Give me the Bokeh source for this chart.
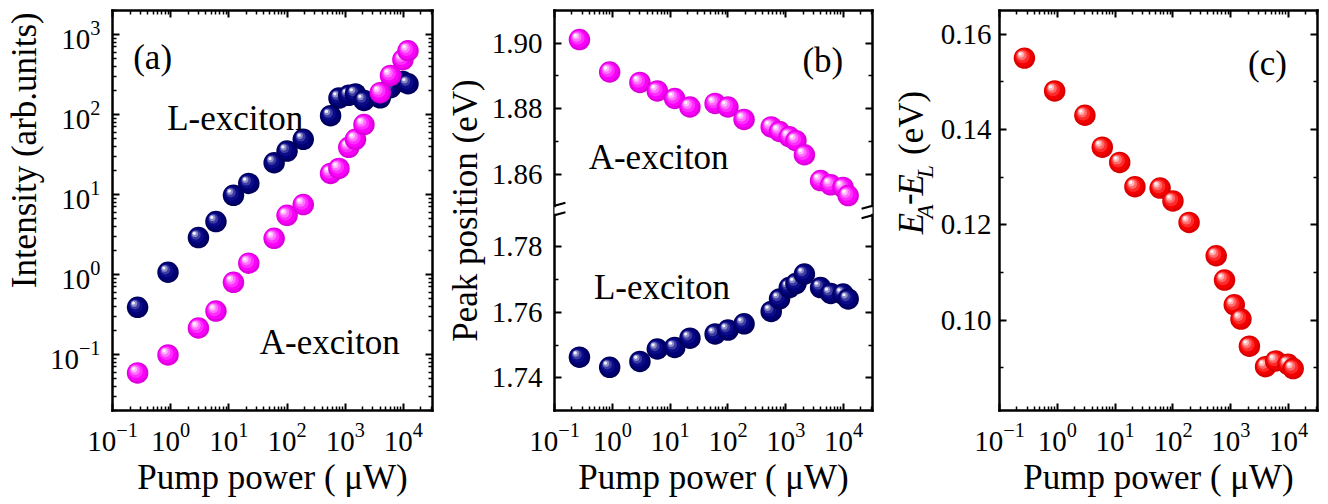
import math
from bokeh.plotting import figure
from bokeh.layouts import row
from bokeh.core.properties import value
from bokeh.models import (LogAxis, LinearAxis, FixedTicker, Label, ColumnDataSource,
                          Range1d, BoxAnnotation, Arrow, PrintfTickFormatter,
                          CustomJSTickFormatter, LogTickFormatter)
from bokeh.embed import file_html
from bokeh.resources import INLINE

# ---------------- data ----------------
power = [0.27, 0.9, 3, 6, 12, 22, 60, 100, 190, 560, 780, 1150, 1500, 2100, 4000, 6000, 9800, 12000]
intensity_L = [0.39, 1.07, 2.9, 4.6, 9.8, 13.8, 25, 35, 49, 97, 161, 174, 181, 150, 162, 217, 259, 243]
intensity_A = [0.059, 0.099, 0.215, 0.35, 0.80, 1.39, 2.84, 5.5, 7.5, 18.4, 21.2, 39, 49, 75, 188, 309, 485, 628]
peak_A = [1.9011, 1.8912, 1.8880, 1.8854, 1.8831, 1.8805, 1.8816, 1.8805, 1.8767, 1.8744,
          1.8730, 1.8714, 1.8702, 1.8659, 1.8580, 1.8567, 1.8559, 1.8534]
peak_L = [1.7463, 1.7432, 1.7450, 1.7488, 1.7493, 1.7521, 1.7534, 1.7546, 1.7565, 1.7603,
          1.7641, 1.7676, 1.7688, 1.7717, 1.7676, 1.7658, 1.7656, 1.7641]
delta_AL = [0.1550, 0.1481, 0.1430, 0.1363, 0.1331, 0.1280, 0.1277, 0.1250, 0.1205, 0.1135,
            0.1084, 0.1032, 0.1002, 0.0945, 0.0902, 0.0914, 0.0907, 0.0898]

x_major = [0.1, 1, 10, 100, 1000, 10000]
ya_major = [0.1, 1, 10, 100, 1000]
yb_major = [1.74, 1.76, 1.78, 1.86, 1.88, 1.90]
yb_minor = [1.75, 1.77, 1.87, 1.89]
yc_major = [0.10, 0.12, 0.14, 0.16]
yc_minor = [0.09, 0.11, 0.13, 0.15]

# ---------------- style ----------------
FONT = "Liberation Serif"
TICK_FS = "29px"
LAB_FS = "35px"
X_RANGE = (0.1, 10 ** 4.5)
YA_RANGE = (0.02, 2000)
YC_RANGE = (0.081, 0.165)
FRAME_H = 400
H = 504

# broken axis of panel (b): lower part 1.73-1.79, upper part 1.85-1.91
LOW_TOP = 1.79
GAP = 0.0023
SHIFT = 1.85 - LOW_TOP - GAP
YB_RANGE = (1.73, 1.91 - SHIFT)


def tb(v):
    return v - SHIFT if v > 1.82 else v


def log_minor(lo_exp, hi_exp):
    return [k * 10.0 ** e for e in range(lo_exp, hi_exp + 1) for k in range(2, 10)]


NAVY = ["#00005c", "#000078", "#0c0c88", "#3c3ca2", "#8c8cc8", "#f2f2ff"]
MAGENTA = ["#dd00dd", "#fa00fa", "#ff30ff", "#ff70ff", "#ffb8ff", "#fff4ff"]
RED = ["#d80000", "#f50000", "#ff2a2a", "#ff6a6a", "#ffb4b4", "#fff2f2"]


def style_axis(ax, show_labels=True):
    ax.axis_line_width = 2.5
    ax.axis_line_color = "black"
    ax.axis_line_cap = "square"
    ax.major_tick_in = 7
    ax.major_tick_out = 0
    ax.major_tick_line_width = 2
    ax.minor_tick_in = 4
    ax.minor_tick_out = 0
    ax.minor_tick_line_width = 1.5
    ax.major_label_text_font = FONT
    ax.major_label_text_font_size = TICK_FS
    ax.major_label_text_color = "black"
    ax.axis_label_text_font = FONT
    ax.axis_label_text_font_size = LAB_FS
    ax.axis_label_text_font_style = "normal"
    ax.axis_label_text_color = "black"
    if not show_labels:
        ax.formatter = CustomJSTickFormatter(code="return ''")
        ax.major_label_text_color = None
        ax.major_label_standoff = 0
        ax.axis_label = None


def make_fig(width, left, right, y_type, y_range):
    p = figure(width=width, height=H, x_axis_type="log", y_axis_type=y_type,
               x_range=Range1d(*X_RANGE), y_range=Range1d(*y_range),
               output_backend="svg", toolbar_location=None,
               min_border_left=left, min_border_right=right,
               min_border_top=10, min_border_bottom=94)
    p.outline_line_color = None
    p.grid.visible = False
    p.background_fill_color = "white"
    p.border_fill_color = "white"
    return p


def make_strip(width):
    s = figure(width=width, height=H, x_range=Range1d(0, width), y_range=Range1d(0, H),
               output_backend="svg", toolbar_location=None,
               x_axis_location=None, y_axis_location=None, min_border=0)
    s.outline_line_color = None
    s.grid.visible = False
    s.background_fill_color = "white"
    s.border_fill_color = "white"
    return s


def strip_text(s, base_x, y, t, size=35, style="normal"):
    # base_x: wanted baseline position; the rotated text is anchored at its middle line
    s.text(x=[base_x - 0.34 * size], y=[y], text=[t], angle=math.pi / 2,
           text_font=value(FONT), text_font_size=value(f"{size}px"),
           text_font_style=value(style), text_color="black",
           text_align=value("left"), text_baseline=value("middle"))


def spheres(p, xs, ys, colors, frame_w, y_log, y_range, size=21.5):
    ppd_x = frame_w / (math.log10(X_RANGE[1]) - math.log10(X_RANGE[0]))
    if y_log:
        ppu_y = FRAME_H / (math.log10(y_range[1]) - math.log10(y_range[0]))
    else:
        ppu_y = FRAME_H / (y_range[1] - y_range[0])
    fr = [1.0, 0.84, 0.64, 0.45, 0.29, 0.15]
    off = [0.0, 0.15, 0.35, 0.55, 0.75, 0.88]
    OFF = 4.8
    X, Y, S, C = [], [], [], []
    for x, y in zip(xs, ys):
        for f, o, c in zip(fr, off, colors):
            d = OFF * o
            X.append(x * 10 ** (-d / ppd_x))
            Y.append(y * 10 ** (d / ppu_y) if y_log else y + d / ppu_y)
            S.append(size * f)
            C.append(c)
    src = ColumnDataSource(dict(x=X, y=Y, s=S, c=C))
    p.scatter("x", "y", size="s", fill_color="c", line_color=None, source=src)


def add_x_axes(p):
    p.xaxis.ticker = FixedTicker(ticks=x_major, minor_ticks=log_minor(-1, 4))
    p.xaxis.formatter = LogTickFormatter()
    p.xaxis.axis_label = "Pump power ( \u03bcW)"
    style_axis(p.xaxis[0])
    p.xaxis.major_label_standoff = 12
    p.xaxis.axis_label_standoff = 4
    top = LogAxis(ticker=FixedTicker(ticks=x_major, minor_ticks=log_minor(-1, 4)))
    style_axis(top, show_labels=False)
    p.add_layout(top, "above")


def text(p, x, y, s, size=LAB_FS, style="normal"):
    p.add_layout(Label(x=x, y=y, text=s, text_font=FONT,
                       text_font_size=size, text_font_style=style, text_color="black",
                       text_align="left", text_baseline="alphabetic"))


# ---------------- panel (a) ----------------
sa = make_strip(46)
strip_text(sa, 36, H - 350, "Intensity (arb.units)")

pa = make_fig(396, 56, 10, "log", YA_RANGE)
add_x_axes(pa)
pa.yaxis.ticker = FixedTicker(ticks=ya_major, minor_ticks=log_minor(-2, 3))
pa.yaxis.formatter = LogTickFormatter()
pa.yaxis.axis_label = None
style_axis(pa.yaxis[0])
pa.yaxis.major_label_standoff = 12
ra = LogAxis(ticker=FixedTicker(ticks=ya_major, minor_ticks=log_minor(-2, 3)))
style_axis(ra, show_labels=False)
pa.add_layout(ra, "right")
spheres(pa, power, intensity_L, NAVY, 330, True, YA_RANGE)
spheres(pa, power, intensity_A, MAGENTA, 330, True, YA_RANGE)
text(pa, 0.227, 514, "(a)")
text(pa, 0.87, 89, "L-exciton")
text(pa, 34, 0.14, "A-exciton")

# ---------------- panel (b) ----------------
pb = make_fig(445, 110, 15, "linear", YB_RANGE)
add_x_axes(pb)
yb_ticks = [tb(v) for v in yb_major]
yb_minor_t = [tb(v) for v in yb_minor]
pb.yaxis.ticker = FixedTicker(ticks=yb_ticks, minor_ticks=yb_minor_t)
pb.yaxis.major_label_overrides = {t: f"{v:.2f}" for t, v in zip(yb_ticks, yb_major)}
pb.yaxis.axis_label = "Peak position (eV)"
style_axis(pb.yaxis[0])
pb.yaxis.major_label_standoff = 12
pb.yaxis.axis_label_standoff = 4
rb = LinearAxis(ticker=FixedTicker(ticks=yb_ticks, minor_ticks=yb_minor_t))
style_axis(rb, show_labels=False)
pb.add_layout(rb, "right")
spheres(pb, power, [tb(v) for v in peak_A], MAGENTA, 320, False, YB_RANGE)
spheres(pb, power, peak_L, NAVY, 320, False, YB_RANGE)
text(pb, 1940, tb(1.8946), "(b)")
text(pb, 0.39, tb(1.865), "A-exciton")
text(pb, 0.48, 1.7675, "L-exciton")

# break marks
ppd_b = 320 / (math.log10(X_RANGE[1]) - math.log10(X_RANGE[0]))
ppu_b = FRAME_H / (YB_RANGE[1] - YB_RANGE[0])
for xe in (X_RANGE[0], X_RANGE[1]):
    pb.add_layout(BoxAnnotation(left=xe * 10 ** (-5 / ppd_b), right=xe * 10 ** (5 / ppd_b),
                                bottom=LOW_TOP + 0.6 / ppu_b, top=LOW_TOP + GAP - 0.6 / ppu_b,
                                fill_color="white", fill_alpha=1.0, line_color=None))
    for yc in (LOW_TOP - 1.0 / ppu_b, LOW_TOP + GAP + 1.0 / ppu_b):
        pb.add_layout(Arrow(start=None, end=None, line_width=2, line_color="black",
                            x_start=xe * 10 ** (-11 / ppd_b), y_start=yc - 3 / ppu_b,
                            x_end=xe * 10 ** (11 / ppd_b), y_end=yc + 3 / ppu_b))

# ---------------- panel (c) ----------------
sc = make_strip(50)
# E_A-E_L (eV) built from pieces (italic E, italic subscripts)
strip_text(sc, 36, 222, "E", style="italic")
strip_text(sc, 46, 242, "A", size=23, style="italic")
strip_text(sc, 31, 259, "-")
strip_text(sc, 36, 271, "E", style="italic")
strip_text(sc, 46, 293, "L", size=23, style="italic")
strip_text(sc, 36, 322, "(eV)")

pc = make_fig(391, 60, 11, "linear", YC_RANGE)
add_x_axes(pc)
pc.yaxis.ticker = FixedTicker(ticks=yc_major, minor_ticks=yc_minor)
pc.yaxis.formatter = PrintfTickFormatter(format="%.2f")
pc.yaxis.axis_label = None
style_axis(pc.yaxis[0])
pc.yaxis.major_label_standoff = 8
rc = LinearAxis(ticker=FixedTicker(ticks=yc_major, minor_ticks=yc_minor))
style_axis(rc, show_labels=False)
pc.add_layout(rc, "right")
spheres(pc, power, delta_AL, RED, 320, False, YC_RANGE)
text(pc, 1990, 0.1538, "(c)")

layout = row(sa, pa, pb, sc, pc)
open("out.html", "w").write(file_html(layout, INLINE))
